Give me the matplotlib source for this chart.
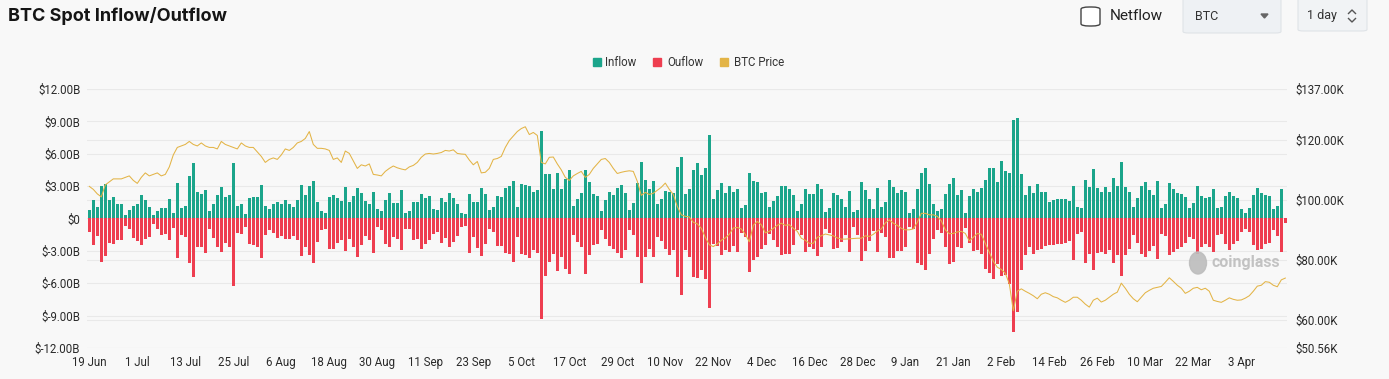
import numpy as np
import matplotlib.pyplot as plt
from matplotlib.patches import Rectangle, FancyBboxPatch, Polygon, Ellipse
from matplotlib.lines import Line2D

W, H = 1389, 379

tick_labels = ['19 Jun', '1 Jul', '13 Jul', '25 Jul', '6 Aug', '18 Aug', '30 Aug',
               '11 Sep', '23 Sep', '5 Oct', '17 Oct', '29 Oct', '10 Nov', '22 Nov',
               '4 Dec', '16 Dec', '28 Dec', '9 Jan', '21 Jan', '2 Feb', '14 Feb',
               '26 Feb', '10 Mar', '22 Mar', '3 Apr']

# daily spot inflow, $B
inflow = [
    0.8, 1.76, 1.1, 3.0, 3.2, 1.76, 2.0, 1.3, 1.3, 0.3,
    0.8, 1.2, 1.3, 2.2, 1.76, 1.05, 0.3, 0.65, 1.0, 1.0,
    1.85, 0.5, 3.3, 1.0, 1.2, 3.9, 5.1, 2.5, 2.3, 2.6,
    0.7, 1.35, 2.2, 2.9, 2.0, 2.2, 5.15, 1.15, 1.3, 0.45,
    1.9, 2.0, 2.0, 3.1, 1.2, 0.9, 1.35, 1.5, 1.3, 1.76,
    1.3, 1.1, 1.75, 3.1, 2.2, 3.0, 3.5, 1.5, 0.65, 0.5,
    2.0, 2.2, 1.9, 1.6, 2.9, 1.5, 2.1, 2.85, 2.4, 1.6,
    1.3, 2.5, 0.9, 0.7, 1.75, 2.4, 1.4, 1.4, 2.65, 0.55,
    0.65, 1.5, 1.5, 2.3, 1.9, 2.1, 0.9, 0.75, 1.9, 1.5,
    2.4, 1.9, 1.3, 0.55, 0.45, 2.3, 1.5, 1.5, 2.8, 2.3,
    0.75, 1.05, 2.1, 2.0, 2.85, 3.0, 3.5, 1.05, 3.2, 3.1,
    3.0, 2.45, 2.65, 8.15, 4.1, 4.1, 2.75, 4.2, 2.75, 3.7,
    4.45, 1.15, 1.8, 2.35, 4.45, 3.35, 2.3, 2.05, 0.65, 1.7,
    2.45, 2.15, 2.85, 3.1, 2.4, 0.75, 1.4, 3.25, 5.2, 3.6,
    2.7, 3.5, 1.35, 1.8, 2.55, 2.45, 2.35, 4.8, 5.7, 2.3,
    2.7, 4.45, 5.15, 4.05, 4.7, 7.7, 1.8, 2.65, 3.3, 2.4,
    3.0, 2.45, 2.7, 0.95, 1.25, 4.2, 3.5, 3.35, 2.4, 2.45,
    1.05, 1.65, 2.1, 3.0, 3.0, 2.75, 2.2, 0.7, 1.35, 2.7,
    2.3, 2.3, 3.2, 2.75, 0.6, 0.95, 2.4, 2.2, 1.8, 1.1,
    2.55, 0.6, 0.75, 3.4, 2.6, 1.8, 0.85, 2.8, 1.05, 1.5,
    3.6, 2.9, 2.4, 2.65, 2.5, 0.5, 0.85, 2.75, 4.2, 4.7,
    3.2, 1.35, 0.65, 0.9, 2.25, 3.2, 3.75, 2.2, 2.6, 0.5,
    2.05, 2.75, 2.5, 2.85, 3.6, 4.7, 4.7, 3.35, 5.3, 4.4,
    4.2, 9.15, 9.3, 4.15, 2.2, 3.0, 2.35, 3.2, 2.5, 2.5,
    1.55, 1.7, 1.8, 1.8, 1.8, 1.65, 3.0, 1.05, 1.0, 3.6,
    2.95, 4.6, 2.85, 2.5, 2.95, 2.5, 3.75, 3.0, 5.2, 2.95,
    2.5, 1.05, 1.9, 3.0, 3.35, 2.6, 2.2, 3.45, 0.95, 1.35,
    3.25, 2.7, 2.4, 2.3, 2.0, 0.95, 1.4, 3.0, 2.1, 1.9,
    2.0, 2.75, 1.0, 1.05, 2.1, 2.45, 2.05, 1.9, 0.9, 0.5,
    1.0, 2.2, 2.85, 2.4, 2.2, 2.05, 0.85, 1.15, 2.75, 0.05,
]

# daily spot outflow, $B (drawn below zero)
outflow = [
    1.27, 2.44, 1.6, 4.0, 3.5, 2.3, 2.35, 2.0, 2.0, 0.74,
    1.0, 1.8, 2.1, 2.5, 1.9, 1.7, 0.55, 0.95, 1.5, 1.4,
    2.0, 0.9, 3.7, 1.5, 1.7, 4.1, 5.4, 2.6, 2.6, 3.2,
    1.0, 1.8, 2.6, 3.1, 2.3, 2.6, 6.3, 1.3, 1.4, 0.8,
    2.35, 2.5, 2.6, 3.7, 1.5, 1.1, 1.35, 1.85, 1.6, 1.9,
    1.9, 1.6, 2.0, 3.5, 2.6, 3.4, 4.1, 2.2, 1.05, 0.95,
    2.8, 2.8, 2.3, 2.0, 3.0, 1.9, 2.6, 3.6, 2.5, 1.6,
    1.95, 3.2, 0.8, 1.1, 2.35, 2.65, 1.7, 1.9, 2.9, 1.0,
    1.0, 2.0, 1.9, 2.8, 2.35, 2.0, 1.4, 1.25, 2.25, 1.8,
    2.65, 2.15, 1.65, 0.8, 0.7, 3.2, 1.75, 2.7, 3.5, 2.4,
    0.95, 1.25, 2.55, 2.55, 3.2, 3.3, 4.0, 1.7, 3.3, 3.4,
    3.7, 2.9, 3.2, 9.3, 5.3, 4.0, 3.3, 4.9, 3.6, 4.65,
    5.1, 1.5, 2.2, 2.65, 5.1, 3.4, 2.5, 2.35, 1.05, 1.9,
    2.55, 2.8, 3.2, 3.7, 2.9, 1.1, 1.55, 3.6, 5.95, 3.6,
    2.8, 3.6, 1.7, 2.05, 2.8, 3.35, 2.95, 5.45, 7.05, 2.9,
    3.6, 5.45, 5.5, 4.8, 5.65, 8.3, 2.35, 2.55, 3.35, 2.95,
    3.1, 2.55, 3.1, 1.35, 1.7, 4.95, 3.8, 3.6, 2.8, 2.45,
    1.4, 2.0, 2.65, 3.4, 3.3, 3.3, 2.5, 1.05, 1.5, 3.1,
    2.65, 2.8, 3.5, 2.6, 0.95, 1.35, 2.8, 2.75, 2.2, 1.55,
    3.1, 0.8, 1.5, 3.9, 3.0, 2.05, 1.2, 3.1, 1.3, 1.75,
    3.65, 3.65, 3.05, 3.05, 2.65, 0.8, 0.95, 4.15, 4.35, 4.8,
    3.3, 1.9, 1.05, 1.35, 2.65, 4.2, 4.05, 2.65, 2.75, 0.9,
    2.25, 3.05, 2.95, 3.3, 4.65, 5.05, 5.65, 4.2, 5.3, 5.2,
    6.05, 10.5, 8.65, 4.75, 3.35, 2.6, 3.25, 2.95, 2.8, 2.55,
    2.5, 2.45, 2.35, 2.35, 2.3, 2.05, 3.8, 1.4, 1.25, 4.15,
    3.3, 4.75, 3.2, 3.1, 3.3, 2.95, 4.15, 3.35, 5.3, 3.35,
    2.8, 1.5, 2.25, 3.3, 3.6, 3.0, 2.55, 3.75, 1.4, 1.65,
    3.35, 3.1, 2.8, 2.65, 2.3, 1.7, 1.9, 3.3, 2.65, 2.35,
    2.6, 3.1, 1.55, 1.4, 2.4, 2.9, 2.35, 2.05, 1.25, 0.95,
    1.25, 2.5, 2.95, 2.8, 2.4, 2.3, 1.1, 1.65, 3.1, 0.45,
]

# BTC price, $K
btc_price = [
    104.5, 103.5, 102, 101, 105, 106, 107, 107, 107, 107.5,
    108, 106.5, 105.5, 107.5, 109, 108, 108.5, 109, 108, 108.5,
    111, 115, 117.5, 118, 118.5, 119.5, 118.5, 118, 119, 118,
    117.5, 117.5, 117, 119.5, 118.5, 118, 117.5, 117, 119, 118,
    117.5, 117.5, 116, 114.5, 112.5, 113.5, 114, 113.5, 115, 117,
    116.5, 117.5, 119, 119.5, 120.5, 122.8, 118.5, 117.2, 117.2, 117,
    116.5, 113.5, 114, 112.5, 116.3, 115.5, 113, 110.5, 111.7, 111.3,
    112, 108.5, 108.3, 108, 109.5, 110.5, 111.3, 110.7, 110.3, 110,
    111, 111.5, 112.5, 114.2, 115.3, 115.5, 115.3, 115.5, 115.8, 116.5,
    116.3, 116.7, 115.5, 115.3, 115.2, 113.3, 111.7, 112.8, 109, 109.2,
    110.5, 113.5, 113.8, 114.5, 117.5, 119.8, 121.3, 122.8, 123.8, 124.4,
    121.8, 122.5, 121.5, 112.5, 112, 114.2, 114.3, 112, 110, 107.5,
    106.5, 108, 108.8, 109.5, 107.5, 108.5, 110.5, 112, 113.5, 113.8,
    112.5, 110.5, 108.8, 109.2, 109.5, 109.7, 109.5, 106.2, 101.5, 102.5,
    101.8, 102.2, 103.2, 104.2, 105.6, 103.5, 101.8, 97.8, 95, 94.5,
    94.3, 92.5, 92, 90.5, 87.5, 85, 84.4, 85.3, 86.5, 87.3,
    88.5, 90.6, 90.8, 90.3, 88.5, 86, 91.5, 92.8, 91.7, 89,
    89.5, 90.5, 91.5, 92.2, 91.5, 91.7, 90.5, 89.5, 87.2, 86.5,
    85.5, 85.5, 87.5, 88, 88.6, 88.3, 88, 87.3, 86.9, 86.9,
    87, 87.1, 87.2, 87.2, 88, 87.8, 88.5, 89.6, 90.3, 92.3,
    93.3, 92.2, 91.5, 90.5, 90, 90, 90.3, 92.5, 95.5, 95.5,
    95, 95, 94.5, 93, 90, 88.7, 88.8, 89.3, 89.5, 88.8,
    86.3, 87.5, 88.8, 88.5, 85.5, 82.5, 79.5, 77.5, 76.8, 75.5,
    72, 63, 69.5, 70.3, 69.5, 68.8, 68, 67, 68.5, 69,
    68.5, 67.7, 67.3, 66.5, 65.8, 66.5, 67.5, 67.5, 66.5, 65.2,
    64.2, 66.5, 67.2, 65.9, 66.5, 67.5, 68.5, 69.2, 72.2, 70.5,
    68.5, 67, 66, 67.5, 69, 69.8, 70.5, 70.8, 71.1, 72.5,
    74, 72.8, 71.5, 70.5, 68.8, 69.5, 70.5, 70.8, 70, 70.5,
    69.5, 66.5, 66.1, 65.8, 66.5, 67.3, 66.8, 66.5, 66.6, 67.2,
    68, 69.5, 71.2, 71.5, 72.7, 72.5, 71.5, 71, 73.3, 73.9,
]

left_ticks = [-12, -9, -6, -3, 0, 3, 6, 9, 12]
right_ticks = [50.56, 60, 80, 100, 120, 137]

C_IN = '#1ba58b'
C_OUT = '#ee3e50'
C_PRICE = '#e3b446'
BG = '#f8f8f8'
GRID = '#e9e9e9'

plt.rcParams['font.family'] = ['Roboto', 'DejaVu Sans']

n = len(inflow)
x = np.arange(n)


def fx(px):
    return px / W


def fy(py):
    return 1 - py / H


fig = plt.figure(figsize=(W / 100, H / 100), dpi=100, facecolor=BG)

ax = fig.add_axes([fx(87.3), fy(348), 1200 / W, 259 / H])
ax.set_facecolor(BG)
ax.set_xlim(-0.5, n - 0.5)
ax.set_ylim(-12, 12)

# gridlines for both scales, kept behind the bars
for t in left_ticks:
    ax.axhline(t, color=GRID, lw=0.8, zorder=0)
lo, hi = right_ticks[0], right_ticks[-1]
for t in right_ticks:
    ax.axhline(-12 + (t - lo) / (hi - lo) * 24, color=GRID, lw=0.8, zorder=0)

ax.bar(x, inflow, width=0.74, color=C_IN, zorder=2)
ax.bar(x, [-v for v in outflow], width=0.74, color=C_OUT, zorder=2)

ax.set_yticks(left_ticks)
ax.set_yticklabels(['$0' if t == 0 else f'${t:.2f}B' for t in left_ticks])
ax.set_xticks(x[::12][:len(tick_labels)])
ax.set_xticklabels(tick_labels)
ax.tick_params(length=0, labelsize=8.3, colors='#2a2a2a')
ax.tick_params(axis='y', pad=5)
ax.tick_params(axis='x', pad=6)
for s in ax.spines.values():
    s.set_visible(False)

ax2 = ax.twinx()
ax2.set_ylim(lo, hi)
ax2.plot(x, btc_price, color=C_PRICE, lw=0.75, zorder=3)
ax2.set_yticks(right_ticks)
ax2.set_yticklabels([f'${t:.2f}K' for t in right_ticks])
ax2.tick_params(length=0, labelsize=8.3, colors='#2a2a2a', pad=6)
for s in ax2.spines.values():
    s.set_visible(False)

# watermark
fig.text(fx(1212), fy(263), 'coinglass', fontsize=11.5, fontweight='bold',
         color='#bdbdbd', alpha=0.9, va='center', ha='left', zorder=10)
fig.patches.append(Ellipse((fx(1198), fy(263)), 17 / W, 22 / H,
                           transform=fig.transFigure, color='#bdbdbd', alpha=0.9, zorder=10))

# title
fig.text(fx(8), fy(16), 'BTC Spot Inflow/Outflow', fontsize=13, fontweight='bold',
         family=['Inter', 'DejaVu Sans'], color='#151515', va='center', ha='left')

# legend
for sx, tx, col, lab in [(597, 605, C_IN, 'Inflow'), (657, 667, C_OUT, 'Ouflow'),
                         (724, 734, C_PRICE, 'BTC Price')]:
    fig.patches.append(Rectangle((fx(sx - 4), fy(66)), 8 / W, 8 / H,
                                 transform=fig.transFigure, color=col))
    fig.text(fx(tx), fy(62), lab, fontsize=8.3, color='#333333', va='center', ha='left')

# controls at top right
fig.patches.append(FancyBboxPatch((fx(1081), fy(26)), 19 / W, 19 / H,
                                  boxstyle='round,pad=0,rounding_size=0.006',
                                  transform=fig.transFigure, facecolor='white',
                                  edgecolor='#444444', lw=1.0))
fig.text(fx(1110), fy(16), 'Netflow', fontsize=11, color='#222222', va='center', ha='left')

fig.patches.append(FancyBboxPatch((fx(1183), fy(33)), 98 / W, 35 / H,
                                  boxstyle='round,pad=0,rounding_size=0.004',
                                  transform=fig.transFigure, facecolor='#eef1f4',
                                  edgecolor='#dfe3e7', lw=0.8))
fig.text(fx(1195), fy(16), 'BTC', fontsize=9, color='#333333', va='center', ha='left')
fig.patches.append(Polygon([(fx(1261), fy(14)), (fx(1268), fy(14)), (fx(1264.5), fy(18))],
                           closed=True, transform=fig.transFigure, color='#666666'))

fig.patches.append(FancyBboxPatch((fx(1298), fy(31)), 69 / W, 33 / H,
                                  boxstyle='round,pad=0,rounding_size=0.004',
                                  transform=fig.transFigure, facecolor='#f1f3f5',
                                  edgecolor='#dfe3e7', lw=0.8))
fig.text(fx(1307), fy(16), '1 day', fontsize=9, color='#333333', va='center', ha='left')
# up/down chevrons
fig.lines.append(Line2D([fx(1348.5), fx(1352), fx(1355.5)], [fy(13.5), fy(10), fy(13.5)],
                        transform=fig.transFigure, color='#555555', lw=1.0))
fig.lines.append(Line2D([fx(1348.5), fx(1352), fx(1355.5)], [fy(18.5), fy(22), fy(18.5)],
                        transform=fig.transFigure, color='#555555', lw=1.0))

fig.savefig('out.png', dpi=100, facecolor=BG)
